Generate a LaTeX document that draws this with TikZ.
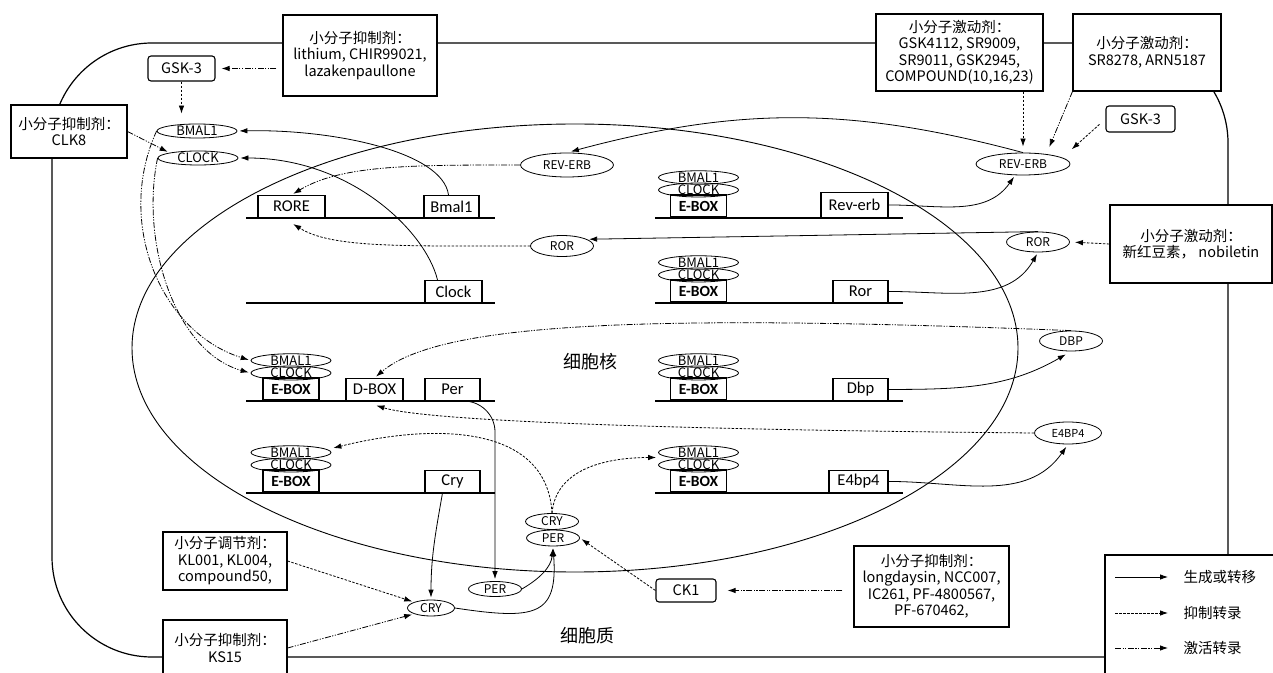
\documentclass[tikz,border=0pt]{standalone}
\usepackage{fontspec}
\setmainfont{Noto Sans CJK SC}
\newfontfamily\genefont{Carlito}
\usetikzlibrary{shapes.geometric,arrows.meta}

\begin{document}
\begin{tikzpicture}[x=1pt, y=1pt,
    gen/.style={-{Latex[length=8pt,width=5.5pt]}, line width=0.8pt, shorten >=2pt},
    inh/.style={gen, dash pattern=on 2.5pt off 1.5pt},
    act/.style={gen, dash pattern=on 6pt off 1.5pt on 1.2pt off 1.5pt on 1.2pt off 1.5pt},
    prot/.style={ellipse, draw, line width=0.8pt, inner sep=0pt,
                 font=\fontsize{12}{12}\selectfont},
    pair/.style={prot, minimum width=80pt, minimum height=13pt,
                 font=\fontsize{13}{13}\selectfont},
    gene/.style={draw, line width=1.1pt, anchor=south, minimum height=22pt, inner sep=0pt,
                 font=\genefont\fontsize{16.5}{17}\selectfont},
    ebox/.style={gene, line width=1.6pt, minimum width=56pt,
                 font=\genefont\bfseries\fontsize{15.5}{16}\selectfont},
    drug/.style={draw, line width=1.1pt, fill=white, align=center,
                 font=\fontsize{14.5}{16.5}\selectfont},
    kinase/.style={drug, rounded corners=3pt},
    dna/.style={line width=1.6pt}
  ]
  \useasboundingbox (0,0) rectangle (1273,672);

  % cell and nucleus
  \draw[line width=1.2pt, rounded corners=100pt] (52,15) rectangle (1228,629);
  \draw[line width=0.9pt] (575,324) ellipse [x radius=443, y radius=224];
  \node[font=\fontsize{18}{18}\selectfont] (nucLabel) at (590,310) {细胞核};
  \node[font=\fontsize{18}{18}\selectfont] (cytLabel) at (587,36) {细胞质};

  % promoter lines
  \foreach \y in {454,369,271,179}
    \draw[dna] (246,\y) -- (495,\y) (655,\y) -- (903,\y);

  % genes
  \node[gene, minimum width=67pt] (rore) at (291.5,454) {RORE};
  \node[gene, minimum width=55pt] (bmalG) at (451.5,454) {Bmal1};
  \node[gene, minimum width=57pt] (clockG) at (453.5,369) {Clock};
  \node[gene, minimum width=57pt] (dbox) at (374.5,271) {D-BOX};
  \node[gene, minimum width=55pt] (perG) at (452.5,271) {Per};
  \node[gene, minimum width=55pt] (cryG) at (452.5,179) {Cry};
  \node[gene, minimum width=67pt, minimum height=25pt] (revG) at (854.5,454) {Rev-erb};
  \node[gene, minimum width=55pt] (rorG) at (860.5,369) {Ror};
  \node[gene, minimum width=55pt] (dbpG) at (860.5,271) {Dbp};
  \node[gene, minimum width=59pt] (e4G) at (858.5,179) {E4bp4};

  % E-boxes with BMAL1/CLOCK
  \foreach \n/\x/\y in {L3/291/271, L4/291/179, R1/698.5/454, R2/698.5/369, R3/698.5/271, R4/698.5/179}
  {
    \node[ebox] (ebox\n) at (\x,\y) {E-BOX};
    \node[pair] (clock\n) at (\x,\y+28) {CLOCK};
    \node[pair] (bmal\n) at (\x,\y+40.5) {BMAL1};
  }

  % proteins
  \node[pair, minimum height=14pt] (bmalTop) at (197,541) {BMAL1};
  \node[pair, minimum height=14pt] (clockTop) at (198,514) {CLOCK};
  \node[prot, minimum width=93pt, minimum height=24pt] (revIn) at (567,507) {REV-ERB};
  \node[prot, minimum width=63pt, minimum height=21pt] (rorIn) at (562,426) {ROR};
  \node[prot, minimum width=94pt, minimum height=22pt] (revOut) at (1023,508) {REV-ERB};
  \node[prot, minimum width=63pt, minimum height=20pt] (rorOut) at (1038,430) {ROR};
  \node[prot, minimum width=63pt, minimum height=20pt] (dbpOut) at (1071,331) {DBP};
  \node[prot, minimum width=67pt, minimum height=22pt,
        font=\fontsize{11}{11}\selectfont] (e4Out) at (1068,239) {E4BP4};
  \node[prot, minimum width=53pt, minimum height=16pt] (cryCx) at (552,150.5) {CRY};
  \node[prot, minimum width=53pt, minimum height=16pt] (perCx) at (553,134) {PER};
  \node[prot, minimum width=53pt, minimum height=15pt] (perOut) at (495,83) {PER};
  \node[prot, minimum width=47pt, minimum height=16pt] (cryOut) at (431,64) {CRY};

  % small molecules and kinases
  \node[drug, minimum width=154pt, minimum height=81pt] (lithBox) at (360,616.5)
    {小分子抑制剂：\\lithium, CHIR99021,\\lazakenpaullone};
  \node[drug, minimum width=116pt, minimum height=53pt] (clkBox) at (69,540.5)
    {小分子抑制剂：\\CLK8};
  \node[drug, minimum width=167pt, minimum height=77pt] (agoBox) at (959.5,619.5)
    {小分子激动剂：\\GSK4112, SR9009,\\SR9011, GSK2945,\\COMPOUND(10,16,23)};
  \node[drug, minimum width=148pt, minimum height=77pt] (srBox) at (1147,619.5)
    {小分子激动剂：\\SR8278, ARN5187};
  \node[drug, minimum width=162pt, minimum height=78pt] (nobBox) at (1191,428)
    {小分子激动剂：\\新红豆素， nobiletin};
  \node[drug, minimum width=155pt, minimum height=81pt] (longBox) at (931.5,85.5)
    {小分子抑制剂：\\longdaysin, NCC007,\\IC261, PF-4800567,\\PF-670462,};
  \node[drug, minimum width=124pt, minimum height=58pt] (klBox) at (225,111)
    {小分子调节剂：\\KL001, KL004,\\compound50,};
  \node[drug, minimum width=124pt, minimum height=56pt] (ksBox) at (225,24)
    {小分子抑制剂：\\KS15};
  \node[kinase, minimum width=67pt, minimum height=25pt] (gskL) at (181.5,603.5) {GSK-3};
  \node[kinase, minimum width=69pt, minimum height=26pt] (gskR) at (1140.5,553) {GSK-3};
  \node[kinase, minimum width=60pt, minimum height=23pt] (ck1) at (686,81.5) {CK1};

  % legend
  \draw[line width=1.2pt, fill=white] (1105,-5) rectangle (1285,117);
  \node[anchor=west, font=\fontsize{14.5}{15}\selectfont] (lgGen) at (1180,95) {生成或转移};
  \node[anchor=west, font=\fontsize{14.5}{15}\selectfont] (lgInh) at (1180,59) {抑制转录};
  \node[anchor=west, font=\fontsize{14.5}{15}\selectfont] (lgAct) at (1180,24) {激活转录};
  \draw[gen, shorten >=12pt] ([xshift=-65pt]lgGen.west) -- (lgGen.west);
  \draw[inh, shorten >=12pt] ([xshift=-65pt]lgInh.west) -- (lgInh.west);
  \draw[act, shorten >=12pt] ([xshift=-65pt]lgAct.west) -- (lgAct.west);

  % drugs acting on targets
  \draw[act, shorten <=6pt, shorten >=6pt] (lithBox.west |- gskL) -- (gskL);
  \draw[inh, shorten >=10pt] (gskL.south) -- (gskL.south |- bmalTop.north);
  \draw[act] (clkBox.east) -- (clockTop.north west);
  \draw[inh, shorten >=6pt] (agoBox.south -| revOut.north) -- (revOut.north);
  \draw[act, shorten >=6pt] (srBox.south west) -- ([xshift=24pt]revOut.north);
  \draw[inh, shorten <=8pt, shorten >=5pt] (gskR.west) -- ([xshift=45pt]revOut.north);
  \draw[inh, shorten >=5pt] (nobBox.west) -- (rorOut.east);
  \draw[act, shorten <=11pt, shorten >=11pt] (longBox.west |- ck1) -- (ck1);
  \draw[inh] (ck1.west) -- (perCx.east);
  \draw[inh] (klBox.east) -- (cryOut.north west);
  \draw[act] (ksBox.east) -- (cryOut.south west);

  % clock loop
  \draw[gen] ([xshift=-3pt]bmalG.north) .. controls +(-6,44) and +(93,2) .. (bmalTop.east);
  \draw[gen] ([xshift=-16pt]clockG.north) .. controls +(-12,49) and +(112,0) .. (clockTop.east);
  \draw[act] (bmalTop.west) .. controls (115,450) and (160,340) .. (bmalL3.west);
  \draw[act] (clockTop.west) .. controls (140,430) and (175,320) .. (clockL3.west);
  \draw[act] (revIn.west) .. controls +(-110,0) and +(50,30) .. (rore.north);
  \draw[gen] (revG.east) to[out=0,in=235] (revOut.235);
  \draw[gen, shorten >=4pt] (revOut.north) to[out=165,in=15] (revIn.north);
  \draw[gen] (rorG.east) to[out=0,in=240] (rorOut.south);
  \draw[gen] (rorOut.north) -- (rorIn.15);
  \draw[inh] (rorIn.west) .. controls +(-130,0) and +(40,-25) .. ([yshift=-5pt]rore.south);
  \draw[gen, shorten >=6pt] (dbpG.east) to[out=0,in=210] (dbpOut.south);
  \draw[act] (dbpOut.north) .. controls (650,358) and (440,350) .. (dbox.north);
  \draw[inh] (e4Out.west) .. controls (700,242) and (430,250) .. ([yshift=-4pt]dbox.south);
  \draw[gen, shorten >=3pt] (e4G.east) to[out=0,in=235] (e4Out.south);
  \coordinate (perBend) at (495,240);
  \draw[gen] ([xshift=11pt]perG.south) to[out=0,in=90] (perBend) -- (perOut.north);
  \draw[gen] ([xshift=-10pt]cryG.south) to[out=-100,in=90] (cryOut.north);
  \draw[gen] (perOut.east) to[out=30,in=-95] (perCx.south);
  \draw[gen] (cryOut.east) .. controls +(80,-12) and +(5,-70) .. (perCx.south);
  \draw[inh] (cryCx.north) .. controls +(-5,90) and +(100,25) .. ([yshift=4pt]bmalL4.east);
  \draw[inh] (cryCx.north) to[out=85,in=180] ([yshift=-5pt]bmalR4.west);
\end{tikzpicture}
\end{document}
